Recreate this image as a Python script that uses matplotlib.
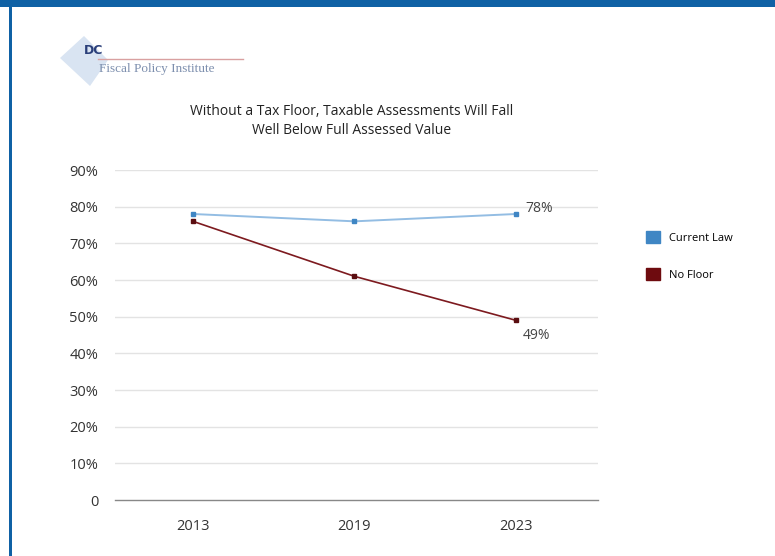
import matplotlib
matplotlib.use("Agg")
import matplotlib.pyplot as plt
from matplotlib.patches import Rectangle, Polygon, Patch
from matplotlib.lines import Line2D

years = ["2013", "2019", "2023"]
current_law = [78, 76, 78]
no_floor = [76, 61, 49]
yticks = [0, 10, 20, 30, 40, 50, 60, 70, 80, 90]
ytick_labels = ["0", "10%", "20%", "30%", "40%", "50%", "60%", "70%", "80%", "90%"]
title = "Without a Tax Floor, Taxable Assessments Will Fall\nWell Below Full Assessed Value"
series_names = ["Current Law", "No Floor"]

W, H = 775, 556
fig = plt.figure(figsize=(W / 100, H / 100), dpi=100)
fig.patch.set_facecolor("white")
plt.rcParams['font.family'] = ['Open Sans', 'DejaVu Sans']

# frame (blue top band and left border)
border = "#0f61a5"
fig.add_artist(Rectangle((0, 1 - 7 / H), 1, 7 / H, transform=fig.transFigure,
                         facecolor=border, edgecolor="none"))
fig.add_artist(Rectangle((8.5 / W, 0), 3 / W, 1 - 7 / H, transform=fig.transFigure,
                         facecolor=border, edgecolor="none"))

# logo
def fx(x):
    return x / W
def fy(y):
    return 1 - y / H
fig.add_artist(Polygon([(fx(84), fy(36)), (fx(108), fy(60)), (fx(90), fy(86)),
                        (fx(60), fy(58))], closed=True, transform=fig.transFigure,
                       facecolor="#d9e4f2", edgecolor="none"))
fig.add_artist(Line2D([fx(98), fx(243)], [fy(59), fy(59)], transform=fig.transFigure,
                      color="#d9a0a0", lw=1))
fig.text(fx(84), fy(51), "DC", fontsize=9, fontweight="bold", color="#2a3f7a",
         ha="left", va="center", family=["DejaVu Sans"])
fig.text(fx(99), fy(69), "Fiscal Policy Institute", fontsize=9.5, color="#7d8fae",
         ha="left", va="center", family=["Liberation Serif", "DejaVu Serif"])

ax = fig.add_axes([115 / W, (H - 500) / H, (598 - 115) / W, (500 - 170) / H])
x = list(range(len(years)))
ax.plot(x, current_law, color="#93bde3", lw=1.4, marker="s", markersize=3.5,
        markerfacecolor="#3f86c4", markeredgecolor="#3f86c4", zorder=3)
ax.plot(x, no_floor, color="#7d1a1f", lw=1.2, marker="s", markersize=3.5,
        markerfacecolor="#5a0d10", markeredgecolor="#5a0d10", zorder=4)

ax.annotate(f"{current_law[-1]}%", (x[-1], current_law[-1]), xytext=(7, 4),
            textcoords="offset points", fontsize=10, color="#444444", ha="left", va="center")
ax.annotate(f"{no_floor[-1]}%", (x[-1], no_floor[-1]), xytext=(5, -11),
            textcoords="offset points", fontsize=10, color="#444444", ha="left", va="center")

ax.set_xlim(-0.483, 2.508)
ax.set_ylim(0, 90)
ax.set_yticks(yticks)
ax.set_yticklabels(ytick_labels)
ax.set_xticks(x)
ax.set_xticklabels(years)
for v in yticks[1:]:
    ax.axhline(v, color="#e3e3e3", lw=1, zorder=1)
for s in ["top", "right", "left"]:
    ax.spines[s].set_visible(False)
ax.spines["bottom"].set_color("#888888")
ax.spines["bottom"].set_linewidth(1)
ax.tick_params(axis="both", length=0, labelsize=10.5, colors="#333333")
ax.tick_params(axis="y", pad=12)
ax.tick_params(axis="x", pad=14)

fig.text(352 / W, 1 - 121 / H, title, fontsize=10, color="#222222",
         ha="center", va="center", linespacing=1.3)

handles = [Patch(facecolor="#3f86c4", edgecolor="#3f86c4"),
           Patch(facecolor="#6e0b0f", edgecolor="#6e0b0f")]
fig.legend(handles, series_names, loc="upper left",
           bbox_to_anchor=(636 / W, 1 - 221 / H), frameon=False,
           handlelength=1.3, handleheight=1.3, labelspacing=2.2, handletextpad=0.8,
           prop={"family": ["Liberation Sans Narrow", "Open Sans"], "size": 8})

fig.savefig("out.png", dpi=100, facecolor="white")
